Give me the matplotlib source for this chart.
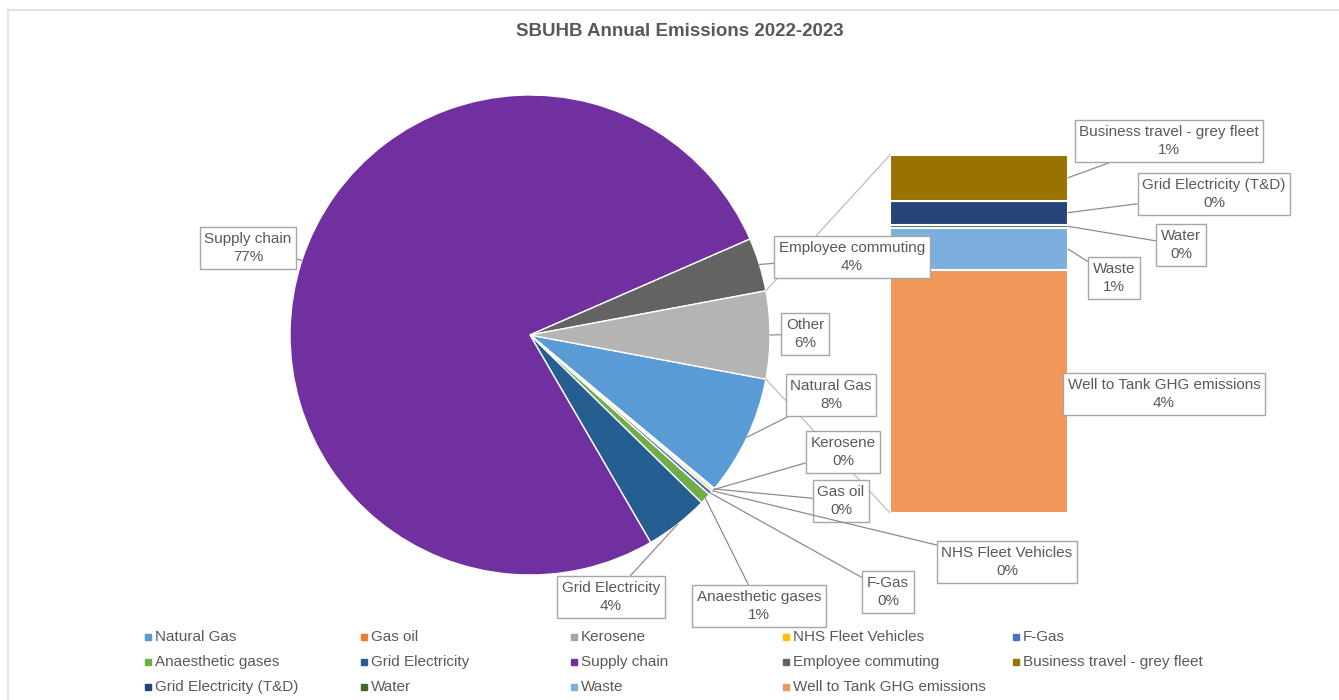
import numpy as np
import matplotlib.pyplot as plt
from matplotlib.patches import Rectangle, ConnectionPatch

plt.rcParams['font.family'] = ['Liberation Sans', 'DejaVu Sans']

# =========================================================
# DATA (share of total emissions, %)
# =========================================================

categories = [
    "Natural Gas", "Gas oil", "Kerosene", "NHS Fleet Vehicles", "F-Gas",
    "Anaesthetic gases", "Grid Electricity", "Supply chain",
    "Employee commuting", "Business travel - grey fleet",
    "Grid Electricity (T&D)", "Water", "Waste", "Well to Tank GHG emissions",
]
shares = [8.1, 0.08, 0.05, 0.15, 0.25, 0.75, 4.3, 76.9, 3.6,
          0.75, 0.4, 0.05, 0.7, 4.0]
colors = ["#5B9BD5", "#ED7D31", "#A5A5A5", "#FFC000", "#4472C4",
          "#70AD47", "#255E91", "#7030A0", "#636363", "#997300",
          "#264478", "#43682B", "#7CAFDD", "#F1975A"]

n_pie = 9                  # first 9 in the pie, rest split into the bar
other_label = "Other"
other_color = "#B4B4B4"

title = "SBUHB Annual Emissions 2022-2023"

# =========================================================
# LAYOUT
# =========================================================

TEXT = "#595959"
LEAD = "#8C8C8C"
BOX = "#A6A6A6"

cx, cy, R = 530, 335, 240
bar_box = (890, 155, 1068, 513)   # left, top, right, bottom (px)

pie_label_pos = {
    "Natural Gas": (831, 395),
    "Gas oil": (841, 501),
    "Kerosene": (843, 452),
    "NHS Fleet Vehicles": (1007, 562),
    "F-Gas": (888, 592),
    "Anaesthetic gases": (759, 606),
    "Grid Electricity": (611, 597),
    "Supply chain": (248, 248),
    "Employee commuting": (852, 257),
    "Other": (805, 334),
}
bar_label_pos = {
    "Business travel - grey fleet": (1169, 141),
    "Grid Electricity (T&D)": (1214, 194),
    "Water": (1181, 245),
    "Waste": (1114, 278),
    "Well to Tank GHG emissions": (1164, 394),
}

total = sum(shares)
pie_vals = shares[:n_pie] + [sum(shares[n_pie:])]
pie_names = categories[:n_pie] + [other_label]
pie_cols = colors[:n_pie] + [other_color]
bar_vals = shares[n_pie:]
bar_names = categories[n_pie:]
bar_cols = colors[n_pie:]

box_kw = dict(boxstyle="square,pad=0.3", fc="white", ec=BOX, lw=1)
arrow_kw = dict(arrowstyle="-", color=LEAD, lw=0.9, shrinkA=0, shrinkB=0)

fig = plt.figure(figsize=(13.39, 7), dpi=100)
ax = fig.add_axes([0, 0, 1, 1])

# bar of the "Other" slice
bl, bt, br, bb = bar_box
bax = fig.add_axes([bl / 1339, (700 - bb) / 700, (br - bl) / 1339, (bb - bt) / 700])
bottom = 0
bar_mid = {}
for name, v, c in list(zip(bar_names, bar_vals, bar_cols))[::-1]:
    bax.bar(0, v, bottom=bottom, width=1, color=c, edgecolor="white", linewidth=1.5)
    bar_mid[name] = bottom + v / 2
    bottom += v
bax.set_xlim(-0.5, 0.5)
bax.set_ylim(0, sum(bar_vals))
bax.axis("off")

ax.set_zorder(2)
bax.set_zorder(1)

# pie
half = pie_vals[-1] / total * 180
wedges, _ = ax.pie(pie_vals, colors=pie_cols, startangle=half, counterclock=True,
                   center=(cx, cy), radius=R,
                   wedgeprops=dict(edgecolor="white", linewidth=1.0))
ax.set_xlim(0, 1339)
ax.set_ylim(700, 0)
ax.set_aspect("equal")
ax.axis("off")

for w, name, v in zip(wedges, pie_names, pie_vals):
    th = np.deg2rad((w.theta1 + w.theta2) / 2)
    anchor = (cx + R * np.cos(th), cy + R * np.sin(th))
    ax.annotate(f"{name}\n{v / total * 100:.0f}%", xy=anchor,
                xytext=pie_label_pos[name], ha="center", va="center",
                fontsize=11, color=TEXT, linespacing=1.4,
                bbox=box_kw, arrowprops=arrow_kw)

for name, v in zip(bar_names, bar_vals):
    ax.annotate(f"{name}\n{v / total * 100:.0f}%", xy=(0.5, bar_mid[name]),
                xycoords=bax.transData, xytext=bar_label_pos[name],
                textcoords="data", ha="center", va="center",
                fontsize=11, color=TEXT, linespacing=1.4,
                bbox=box_kw, arrowprops=arrow_kw)

# connectors pie -> bar
ow = wedges[-1]
for th, yb in [(ow.theta1, sum(bar_vals)), (ow.theta2, 0)]:
    t = np.deg2rad(th)
    con = ConnectionPatch(xyA=(cx + R * np.cos(t), cy + R * np.sin(t)), coordsA=ax.transData,
                          xyB=(-0.5, yb), coordsB=bax.transData,
                          color="#BFBFBF", lw=0.9)
    ax.add_artist(con)

# title
ax.text(680, 32, title, ha="center", va="center", fontsize=13.5,
        fontweight="bold", color=TEXT)

# legend (row-major, 5 columns)
leg_x = [148, 364, 574, 786, 1016]
leg_y = [637, 662, 687]
for i, (name, c) in enumerate(zip(categories, colors)):
    r, k = divmod(i, 5)
    x, y = leg_x[k], leg_y[r]
    ax.add_patch(Rectangle((x - 3, y - 3), 6, 6, color=c))
    ax.text(x + 7, y, name, va="center", ha="left", fontsize=11, color=TEXT)

# chart border
ax.plot([8, 1339], [10, 10], color="#E3E3E3", lw=1.5)
ax.plot([8, 8], [10, 700], color="#E3E3E3", lw=1.5)

fig.savefig("out.png", dpi=100)
